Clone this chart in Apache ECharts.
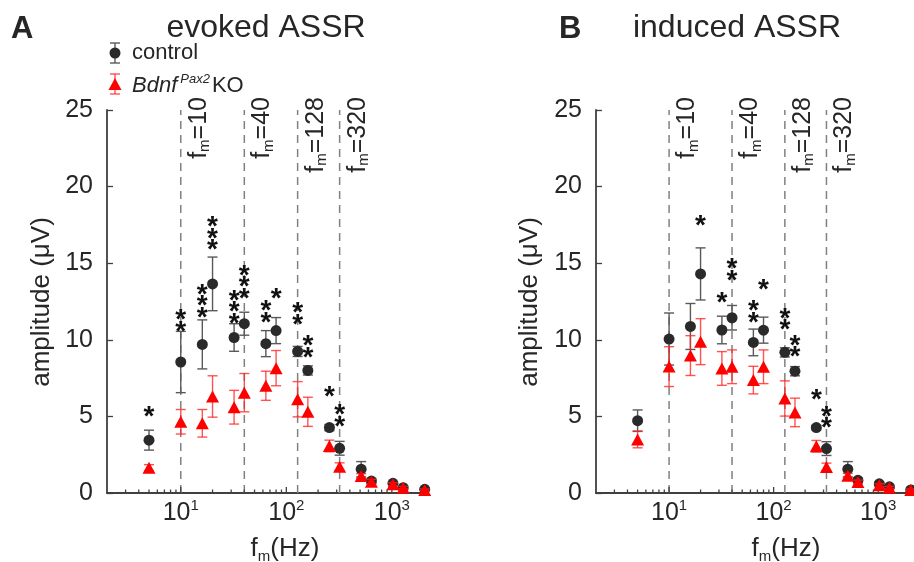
<!DOCTYPE html>
<html>
<head>
<meta charset="utf-8">
<script src="https://cdn.jsdelivr.net/npm/echarts@6/dist/echarts.min.js"></script>
<style>
  html, body { margin: 0; padding: 0; background: #fff; }
  #chart { width: 914px; height: 562px; }
</style>
</head>
<body>
<div id="chart"></div>
<script>
const FONT = 'Liberation Sans, Arial, Helvetica, sans-serif';
const INK = '#262626';

// modulation frequencies (Hz)
const freqs = [5, 10, 16, 20, 32, 40, 64, 80, 128, 160, 256, 320, 512, 640, 1024, 1280, 2048];

// A: evoked ASSR
const evokedCtrl = [3.45, 8.55, 9.7, 13.65, 10.15, 11.05, 9.75, 10.6, 9.24, 8.0, 4.27, 2.92, 1.55, 0.78, 0.63, 0.35, 0.24];
const evokedCtrlErr = [0.65, 2.0, 1.6, 1.75, 0.9, 0.75, 0.85, 0.85, 0.33, 0.3, 0.2, 0.45, 0.5, 0.15, 0.1, 0.08, 0.06];
const evokedKO = [1.65, 4.65, 4.55, 6.3, 5.6, 6.55, 7.0, 8.15, 6.12, 5.3, 3.07, 1.72, 1.11, 0.74, 0.57, 0.35, 0.2];
const evokedKOErr = [0.2, 0.8, 0.9, 1.35, 1.1, 1.25, 0.95, 1.15, 1.15, 0.95, 0.38, 0.25, 0.15, 0.15, 0.1, 0.08, 0.06];
// [freq, height of star group centre, number of stars]
const evokedStars = [[5, 5.35, 1], [10, 11.3, 2], [16, 12.6, 3], [20, 17.0, 3], [32, 12.2, 3], [40, 13.85, 3],
  [64, 11.9, 2], [80, 13.1, 1], [128, 11.75, 2], [160, 9.6, 2], [256, 6.7, 1], [320, 5.1, 2]];

// B: induced ASSR
const inducedCtrl = [4.72, 10.05, 10.87, 14.3, 10.64, 11.44, 9.83, 10.63, 9.18, 7.95, 4.27, 2.9, 1.55, 0.83, 0.6, 0.4, 0.2];
const inducedCtrlErr = [0.7, 1.7, 1.5, 1.7, 0.9, 0.8, 0.87, 0.85, 0.3, 0.3, 0.15, 0.45, 0.5, 0.15, 0.1, 0.08, 0.06];
const inducedKO = [3.5, 8.25, 8.97, 9.88, 8.13, 8.24, 7.37, 8.24, 6.17, 5.26, 3.05, 1.7, 1.13, 0.72, 0.5, 0.35, 0.2];
const inducedKOErr = [0.55, 1.3, 1.3, 1.5, 1.1, 1.1, 0.9, 1.1, 1.15, 0.93, 0.38, 0.25, 0.15, 0.12, 0.1, 0.08, 0.06];
const inducedStars = [[20, 17.85, 1], [32, 12.8, 1], [40, 14.65, 2], [64, 11.9, 2], [80, 13.65, 1],
  [128, 11.4, 2], [160, 9.65, 2], [256, 6.45, 1], [320, 5.0, 2]];

// dashed reference lines
const fmLines = [10, 40, 128, 320];
const fmLabels = ['10', '40', '128', '320'];

const majorTicks = [10, 100, 1000];
const minorTicks = [3, 4, 5, 6, 7, 8, 9, 20, 30, 40, 50, 60, 70, 80, 90,
  200, 300, 400, 500, 600, 700, 800, 900, 2000];

const yTicks = [0, 5, 10, 15, 20, 25];

const chart = echarts.init(document.getElementById('chart'));

function errorBars(color, width) {
  return function (params, api) {
    const x = api.value(0);
    const top = api.coord([x, api.value(2)]);
    const bot = api.coord([x, api.value(1)]);
    const w = 5;
    const style = { stroke: color, lineWidth: width };
    return {
      type: 'group',
      children: [
        { type: 'line', shape: { x1: top[0], y1: top[1], x2: bot[0], y2: bot[1] }, style: style },
        { type: 'line', shape: { x1: top[0] - w, y1: top[1], x2: top[0] + w, y2: top[1] }, style: style },
        { type: 'line', shape: { x1: bot[0] - w, y1: bot[1], x2: bot[0] + w, y2: bot[1] }, style: style }
      ]
    };
  };
}

function starItem(params, api) {
  const c = api.coord([api.value(0), api.value(1)]);
  const n = api.value(2);
  const children = [];
  for (let i = 0; i < n; i++) {
    children.push({
      type: 'text',
      x: c[0],
      y: c[1] + (i - (n - 1) / 2) * 11.5 + 6.5,
      style: { text: '*', fontSize: 28, fontWeight: 'bold', fontFamily: FONT, fill: '#111', align: 'center', verticalAlign: 'middle' }
    });
  }
  return { type: 'group', children: children };
}

function fmLineItem(params, api) {
  const f = api.value(0);
  const bot = api.coord([f, 0]);
  const top = api.coord([f, yTicks[yTicks.length - 1]]);
  return {
    type: 'group',
    children: [
      {
        type: 'line',
        shape: { x1: bot[0], y1: bot[1], x2: top[0], y2: top[1] },
        style: { stroke: '#808080', lineWidth: 1.5, lineDash: [8, 6] }
      },
      {
        type: 'text',
        x: top[0] + 18,
        y: top[1] - 13,
        rotation: Math.PI / 2,
        style: {
          text: '{a|f}{s|m}{a|=' + fmLabels[params.dataIndex] + '}',
          align: 'right',
          verticalAlign: 'middle',
          fill: INK,
          rich: {
            a: { fontSize: 25, fontFamily: FONT, fill: INK, lineHeight: 28 },
            s: { fontSize: 15, fontFamily: FONT, fill: INK, lineHeight: 16, verticalAlign: 'bottom' }
          }
        }
      }
    ]
  };
}

function tickItem(len) {
  return function (params, api) {
    const p = api.coord([api.value(0), 0]);
    return {
      type: 'line',
      shape: { x1: p[0], y1: p[1], x2: p[0], y2: p[1] - len },
      style: { stroke: '#404040', lineWidth: 1.3 }
    };
  };
}

function panelSeries(idx, ctrl, ctrlErr, ko, koErr, stars) {
  const ax = { xAxisIndex: idx, yAxisIndex: idx };
  return [
    Object.assign({ type: 'custom', z: 1, renderItem: fmLineItem, encode: { x: 0, y: 1 },
      data: fmLines.map(f => [f, 0]) }, ax),
    Object.assign({ type: 'custom', z: 1, renderItem: tickItem(6), encode: { x: 0, y: 1 },
      data: majorTicks.map(f => [f, 0]) }, ax),
    Object.assign({ type: 'custom', z: 1, renderItem: tickItem(3.5), encode: { x: 0, y: 1 },
      data: minorTicks.map(f => [f, 0]) }, ax),
    Object.assign({ type: 'custom', z: 2, renderItem: errorBars('#595959', 1.4), encode: { x: 0, y: [1, 2] },
      data: freqs.map((f, i) => [f, ctrl[i] - ctrlErr[i], ctrl[i] + ctrlErr[i]]) }, ax),
    Object.assign({ type: 'scatter', z: 3, name: 'control', symbol: 'circle', symbolSize: 11,
      itemStyle: { color: '#2a2a2a', opacity: 1 },
      data: freqs.map((f, i) => [f, ctrl[i]]) }, ax),
    Object.assign({ type: 'custom', z: 4, renderItem: errorBars('rgba(255,40,40,0.8)', 1.4), encode: { x: 0, y: [1, 2] },
      data: freqs.map((f, i) => [f, ko[i] - koErr[i], ko[i] + koErr[i]]) }, ax),
    Object.assign({ type: 'scatter', z: 5, name: 'KO', symbol: 'triangle', symbolSize: [13, 12],
      itemStyle: { color: '#ff0000', opacity: 1 },
      data: freqs.map((f, i) => [f, ko[i]]) }, ax),
    Object.assign({ type: 'custom', z: 6, renderItem: starItem, encode: { x: 0, y: 1 },
      data: stars }, ax)
  ];
}

function xAxisFor(idx) {
  return {
    type: 'log', logBase: 10, gridIndex: idx, min: 2, max: 2200,
    axisLine: { onZero: false, lineStyle: { color: '#404040', width: 1.8 } },
    axisTick: { show: false },
    splitLine: { show: false },
    axisLabel: {
      showMinLabel: false, showMaxLabel: false, margin: 5,
      formatter: function (v) {
        return '{b|10}{s|' + Math.round(Math.log10(v)) + '}';
      },
      rich: {
        b: { fontSize: 25, fontFamily: FONT, color: INK, lineHeight: 30 },
        s: { fontSize: 15, fontFamily: FONT, color: INK, lineHeight: 14, verticalAlign: 'top' }
      }
    }
  };
}

function yAxisFor(idx) {
  return {
    type: 'value', gridIndex: idx, min: yTicks[0], max: yTicks[yTicks.length - 1], interval: 5,
    axisLine: { show: true, lineStyle: { color: '#404040', width: 1.8 } },
    axisTick: { show: true, inside: true, length: 6, lineStyle: { color: '#404040', width: 1.3 } },
    splitLine: { show: false },
    axisLabel: { fontSize: 25, fontFamily: FONT, color: INK, margin: 14 }
  };
}

function legendGraphic() {
  const g = [];
  const capStyle = (c) => ({ stroke: c, lineWidth: 1.4 });
  // control entry
  g.push({ type: 'line', shape: { x1: 115, y1: 43, x2: 115, y2: 63 }, style: capStyle('#595959') });
  g.push({ type: 'line', shape: { x1: 110, y1: 43, x2: 120, y2: 43 }, style: capStyle('#595959') });
  g.push({ type: 'line', shape: { x1: 110, y1: 63, x2: 120, y2: 63 }, style: capStyle('#595959') });
  g.push({ type: 'circle', shape: { cx: 115, cy: 53, r: 5.5 }, style: { fill: '#2a2a2a' } });
  g.push({ type: 'text', x: 132, y: 53, style: { text: 'control', fontSize: 22, fontFamily: FONT, fill: INK, verticalAlign: 'middle' } });
  // KO entry
  g.push({ type: 'line', shape: { x1: 115, y1: 74, x2: 115, y2: 94 }, style: capStyle('rgba(255,40,40,0.8)') });
  g.push({ type: 'line', shape: { x1: 110, y1: 74, x2: 120, y2: 74 }, style: capStyle('rgba(255,40,40,0.8)') });
  g.push({ type: 'line', shape: { x1: 110, y1: 94, x2: 120, y2: 94 }, style: capStyle('rgba(255,40,40,0.8)') });
  g.push({ type: 'polygon', shape: { points: [[115, 78], [121.5, 90], [108.5, 90]] }, style: { fill: '#ff0000' } });
  g.push({
    type: 'text', x: 132, y: 86,
    style: {
      text: '{i|Bdnf}{p|Pax2}{n|KO}',
      verticalAlign: 'middle',
      rich: {
        i: { fontSize: 22, fontFamily: FONT, fontStyle: 'italic', fill: INK, lineHeight: 26 },
        p: { fontSize: 13, fontFamily: FONT, fontStyle: 'italic', fill: INK, lineHeight: 14, verticalAlign: 'top', padding: [0, 2, 0, 3] },
        n: { fontSize: 22, fontFamily: FONT, fill: INK, lineHeight: 26 }
      }
    }
  });
  return g;
}

function textEl(x, y, text, size, opts) {
  return Object.assign({
    type: 'text', x: x, y: y,
    style: { text: text, fontSize: size, fontFamily: FONT, fill: INK, align: 'center', verticalAlign: 'middle' }
  }, opts || {});
}

const xNameRich = {
  a: { fontSize: 26, fontFamily: FONT, fill: INK, lineHeight: 30 },
  s: { fontSize: 15, fontFamily: FONT, fill: INK, lineHeight: 16, verticalAlign: 'bottom' }
};

const graphic = [
  { type: 'text', x: 11, y: 29, style: { text: 'A', fontSize: 31, fontWeight: 'bold', fontFamily: FONT, fill: INK, verticalAlign: 'middle' } },
  { type: 'text', x: 559, y: 29, style: { text: 'B', fontSize: 31, fontWeight: 'bold', fontFamily: FONT, fill: INK, verticalAlign: 'middle' } },
  textEl(266, 28, 'evoked ASSR', 32),
  textEl(737, 28, 'induced ASSR', 32),
  { type: 'text', x: 285, y: 549, style: { text: '{a|f}{s|m}{a|(Hz)}', align: 'center', verticalAlign: 'middle', rich: xNameRich } },
  { type: 'text', x: 786, y: 549, style: { text: '{a|f}{s|m}{a|(Hz)}', align: 'center', verticalAlign: 'middle', rich: xNameRich } },
  textEl(42, 302, 'amplitude (μV)', 26, { rotation: Math.PI / 2 }),
  textEl(530, 302, 'amplitude (μV)', 26, { rotation: Math.PI / 2 })
].concat(legendGraphic());

const option = {
  animation: false,
  backgroundColor: '#ffffff',
  grid: [
    { left: 107, top: 110, width: 321, height: 383 },
    { left: 596, top: 110, width: 322, height: 383 }
  ],
  xAxis: [xAxisFor(0), xAxisFor(1)],
  yAxis: [yAxisFor(0), yAxisFor(1)],
  graphic: graphic,
  series: panelSeries(0, evokedCtrl, evokedCtrlErr, evokedKO, evokedKOErr, evokedStars)
    .concat(panelSeries(1, inducedCtrl, inducedCtrlErr, inducedKO, inducedKOErr, inducedStars))
};

chart.setOption(option);
</script>
</body>
</html>
